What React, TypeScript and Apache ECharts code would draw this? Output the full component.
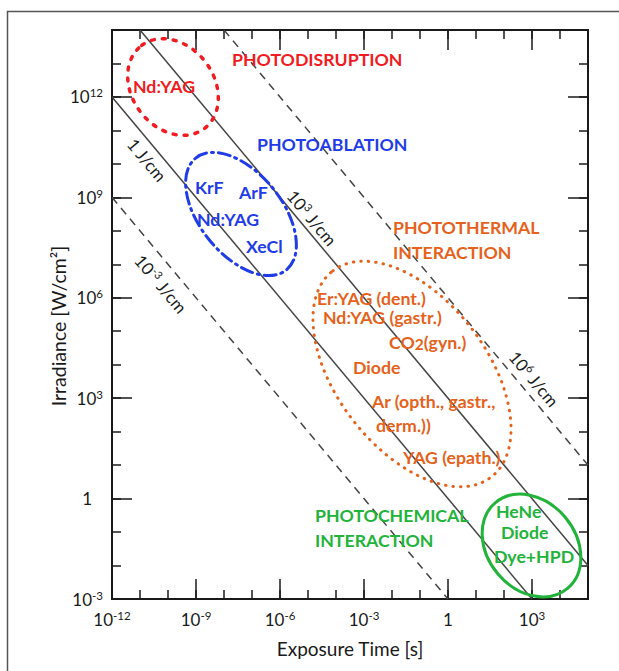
import React, { useEffect, useRef } from 'react';
import * as echarts from 'echarts';

// ---- data ----
const xRange = [1e-12, 1e5]; // exposure time [s]
const yRange = [1e-3, 1e14]; // irradiance [W/cm^2]
const xLabelExponents = [-12, -9, -6, -3, 0, 3];
const yLabelExponents = [-3, 0, 3, 6, 9, 12];

// iso-fluence lines (start / end points)
const fluenceNames = ['10^-3 J/cm', '1 J/cm', '10^3 J/cm', '10^6 J/cm'];
const fluenceStart = [[1e-12, 1e9], [1e-12, 1e12], [1e-11, 1e14], [1e-8, 1e14]];
const fluenceEnd = [[1, 1e-3], [1e3, 1e-3], [1e5, 1e-2], [1e5, 10]];
const fluenceDashed = [true, false, false, true];

// ---- styling ----
const FONT = 'Lato, "Open Sans", sans-serif';
const RED = '#f01c22';
const BLUE = '#1f3ce6';
const ORANGE = '#e5621c';
const GREEN = '#22b33a';
const INK = '#1a1a1a';
const ANG = (50 * Math.PI) / 180;
const BOLD = `bold 17.7px ${FONT}`;

const lg = (v: number) => Math.log10(v);

const tickRich = {
  b: { fontSize: 17, fontFamily: FONT, color: INK, lineHeight: 20 },
  s: { fontSize: 11.5, fontFamily: FONT, color: INK, lineHeight: 8, verticalAlign: 'top' },
  one: { fontSize: 17, fontFamily: FONT, color: INK, lineHeight: 20 },
  oneY: { fontSize: 17, fontFamily: FONT, color: INK, lineHeight: 20, padding: [0, 11, 0, 0] },
};

const fmt = (list: number[], yAxis: boolean) => (v: number) => {
  const e = Math.round(v);
  if (Math.abs(v - e) > 1e-6 || !list.includes(e)) return '';
  if (e === 0) return yAxis ? '{oneY|1}' : '{one|1}';
  return `{b|10}{s|${e}}`;
};

const axisLine = { show: true, onZero: false, lineStyle: { color: INK, width: 2 } };
const tick = (len: number) => ({ show: true, inside: true, length: len, lineStyle: { color: INK, width: 1.5 } });

function makeX(position: string, interval: number, labels: boolean) {
  return {
    type: 'value',
    min: lg(xRange[0]),
    max: lg(xRange[1]),
    interval,
    position,
    axisLine,
    axisTick: tick(interval === 1 ? 9 : 20),
    splitLine: { show: false },
    axisLabel: labels
      ? { show: true, margin: 10, formatter: fmt(xLabelExponents, false), rich: tickRich }
      : { show: false },
    ...(labels
      ? {
          name: 'Exposure Time [s]',
          nameLocation: 'middle',
          nameGap: 40,
          nameTextStyle: { fontSize: 19, fontFamily: FONT, color: INK },
        }
      : {}),
  };
}

function makeY(position: string, interval: number, labels: boolean) {
  return {
    type: 'value',
    min: lg(yRange[0]),
    max: lg(yRange[1]),
    interval,
    position,
    axisLine,
    axisTick: tick(interval === 1 ? 9 : 20),
    splitLine: { show: false },
    axisLabel: labels
      ? { show: true, margin: 9, formatter: fmt(yLabelExponents, true), rich: tickRich }
      : { show: false },
  };
}

const lineRich = (size: number) => ({
  n: { fontSize: size, fontFamily: FONT, fill: INK, lineHeight: 20 },
  s: { fontSize: 11, fontFamily: FONT, fill: INK, lineHeight: 8, verticalAlign: 'top' },
});

function lineLabel(text: string, x: number, y: number) {
  const m = text.match(/^10\^(-?\d+)(.*)$/);
  const rt = m ? `{n|10}{s|${m[1]}}{n|${m[2]}}` : `{n|${text}}`;
  return {
    type: 'text',
    x,
    y,
    rotation: -ANG,
    z: 10,
    style: { text: rt, rich: lineRich(17), align: 'center', verticalAlign: 'middle' },
  };
}

function boldText(text: string, x: number, y: number, color: string) {
  return {
    type: 'text',
    x,
    y,
    z: 10,
    style: {
      text,
      fill: color,
      font: BOLD,
      align: 'left',
      verticalAlign: 'middle',
    },
  };
}

function ellipse(cx: number, cy: number, a: number, b: number, deg: number, stroke: string, width: number, dash: any) {
  return {
    type: 'ellipse',
    x: cx,
    y: cy,
    rotation: (-deg * Math.PI) / 180,
    z: 5,
    shape: { cx: 0, cy: 0, rx: a, ry: b },
    style: { fill: 'none', stroke, lineWidth: width, lineDash: dash, lineCap: 'round' },
  };
}

export default function App() {
  const ref = useRef<HTMLDivElement>(null);

  useEffect(() => {
    if (!ref.current) return;
    const chart = echarts.init(ref.current, undefined, { renderer: 'svg' });

    const series = fluenceNames.map((name, i) => ({
      name,
      type: 'line',
      xAxisIndex: 0,
      yAxisIndex: 0,
      symbol: 'none',
      silent: true,
      lineStyle: { color: '#444', width: 1.5, type: fluenceDashed[i] ? [8, 6] : 'solid' },
      data: [
        [lg(fluenceStart[i][0]), lg(fluenceStart[i][1])],
        [lg(fluenceEnd[i][0]), lg(fluenceEnd[i][1])],
      ],
    }));

    const graphic: any[] = [
      {
        type: 'rect',
        x: 7.5,
        y: 11.5,
        shape: { width: 800, height: 800 },
        style: { fill: 'none', stroke: '#555', lineWidth: 1.5 },
        z: -1,
      },
      {
        type: 'text',
        x: 58,
        y: 326,
        rotation: Math.PI / 2,
        style: {
          text: 'Irradiance [W/cm²]',
          font: `19.5px ${FONT}`,
          fill: INK,
          align: 'center',
          verticalAlign: 'middle',
        },
      },
      lineLabel('10^-3 J/cm', 161, 284),
      lineLabel('1 J/cm', 147, 160),
      lineLabel('10^3 J/cm', 312, 218),
      lineLabel('10^6 J/cm', 534, 379),

      ellipse(173, 87, 52, 41, 53, RED, 3.5, [3, 8]),
      ellipse(241, 214, 72, 41, 51, BLUE, 3, [12, 5, 2, 5]),
      ellipse(412, 374, 130, 75, 52.5, ORANGE, 3, [0.5, 7]),
      ellipse(531.5, 545.5, 56, 44, 50, GREEN, 3, null),

      boldText('PHOTODISRUPTION', 232, 59, RED),
      boldText('Nd:YAG', 133, 86, RED),

      boldText('PHOTOABLATION', 257, 144, BLUE),
      boldText('KrF', 195, 187, BLUE),
      boldText('ArF', 239, 192, BLUE),
      boldText('Nd:YAG', 197, 219, BLUE),
      boldText('XeCl', 246, 246, BLUE),

      boldText('PHOTOTHERMAL', 393, 227, ORANGE),
      boldText('INTERACTION', 393, 252, ORANGE),
      boldText('Er:YAG (dent.)', 317, 298, ORANGE),
      boldText('Nd:YAG (gastr.)', 323, 317, ORANGE),
      {
        type: 'text',
        x: 389,
        y: 342,
        z: 10,
        style: {
          text: '{o|CO}{u|2}{o|(gyn.)}',
          align: 'left',
          verticalAlign: 'middle',
          rich: {
            o: { font: BOLD, fill: ORANGE, lineHeight: 20 },
            u: { font: `bold 15.5px ${FONT}`, fill: ORANGE, lineHeight: 12, verticalAlign: 'bottom' },
          },
        },
      },
      boldText('Diode', 353, 367, ORANGE),
      boldText('Ar (opth., gastr.,', 372, 401, ORANGE),
      boldText('derm.))', 376, 425, ORANGE),
      boldText('YAG (epath.)', 403, 457, ORANGE),

      boldText('PHOTOCHEMICAL', 315, 515, GREEN),
      boldText('INTERACTION', 315, 540, GREEN),
      boldText('HeNe', 496, 511, GREEN),
      boldText('Diode', 501, 532, GREEN),
      boldText('Dye+HPD', 494, 556, GREEN),
    ];

    chart.setOption({
      animation: false,
      backgroundColor: '#fff',
      grid: { left: 112, right: 31, top: 30, bottom: 72, containLabel: false },
      xAxis: [makeX('bottom', 1, false), makeX('bottom', 3, true), makeX('top', 1, false), makeX('top', 3, false)],
      yAxis: [makeY('left', 1, false), makeY('left', 3, true), makeY('right', 1, false), makeY('right', 3, false)],
      series,
      graphic,
    });

    return () => chart.dispose();
  }, []);

  return (
    <div
      ref={ref}
      style={{ position: 'absolute', left: 0, top: 0, width: 619, height: 671, background: '#fff' }}
    />
  );
}
